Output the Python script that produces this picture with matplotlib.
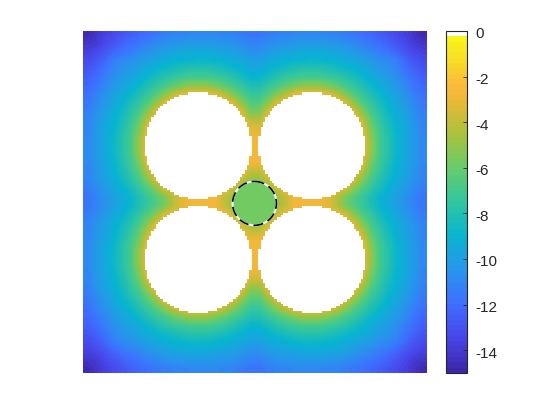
import numpy as np
import matplotlib
matplotlib.use("Agg")
import matplotlib.pyplot as plt
from matplotlib.colors import LinearSegmentedColormap, ListedColormap
from matplotlib.patches import Circle
from matplotlib.transforms import ScaledTranslation

# upper-left quadrant, each row starts on the diagonal
quad_rows = [
    [-14.7, -14.2, -13.7, -13.3, -12.9, -12.5, -12.2, -11.9, -11.6, -11.4, -11.2, -11.1, -11.0, -11.0, -11.0, -11.0, -11.1, -11.2, -11.4, -11.7],
    [-14.0, -13.4, -12.9, -12.4, -12.0, -11.7, -11.3, -11.0, -10.7, -10.5, -10.4, -10.3, -10.3, -10.3, -10.4, -10.5, -10.6, -10.9, -11.2],
    [-12.9, -12.3, -11.8, -11.4, -11.0, -10.6, -10.3, -10.0, -9.8, -9.6, -9.6, -9.6, -9.6, -9.7, -9.9, -10.0, -10.3, -10.6],
    [-11.4, -11.0, -10.7, -10.3, -10.0, -9.7, -9.4, -9.1, -9.0, -8.9, -8.8, -8.9, -9.0, -9.2, -9.4, -9.7, -10.0],
    [-10.6, -10.2, -9.8, -9.4, -9.0, -8.7, -8.4, -8.1, -7.9, -7.9, -7.9, -8.1, -8.4, -8.7, -9.1, -9.5],
    [-9.8, -9.3, -8.8, -8.3, -7.8, -7.5, -7.2, -7.0, -7.0, -7.0, -7.2, -7.5, -7.9, -8.4, -8.9],
    [-8.8, -8.1, -7.5, -7.0, -6.2, -5.6, -5.1, -5.0, -5.1, -5.7, -6.3, -7.0, -7.5, -8.1],
    [-7.4, -6.6, -5.3, -4.0, -3.2, -2.9, -2.9, -2.9, -3.2, -4.2, -5.4, -6.6, -7.4],
    [-5.0, -3.4, -2.9, -2.9, -2.9, -2.9, -2.9, -2.9, -2.9, -3.5, -5.2, -6.6],
    [-2.9, -2.9, -2.9, -2.9, -2.9, -2.9, -2.9, -2.9, -2.9, -3.5, -5.6],
    [-2.9, -2.9, -2.9, -2.9, -2.9, -2.9, -2.9, -2.9, -2.9, -4.2],
    [-2.9, -2.9, -2.9, -2.9, -2.9, -2.9, -2.9, -2.9, -3.2],
    [-2.9, -2.9, -2.9, -2.9, -2.9, -2.9, -2.9, -2.8],
    [-2.9, -2.9, -2.9, -2.9, -2.9, -2.9, -2.6],
    [-2.9, -2.9, -2.9, -2.9, -2.9, -2.6],
    [-2.9, -2.9, -2.9, -2.9, -2.8],
    [-2.9, -2.9, -2.9, -4.0],
    [-2.9, -4.0, -5.0],
    [-5.0, -5.8],
    [-5.8],
]
disk_level = -5.8
hole_level = 0.0
cbar_ticks = [-14, -12, -10, -8, -6, -4, -2, 0]

# parula samples as seen on the colorbar, top entry of the map is white (holes)
parula_pos = [0.0, 0.1, 0.2, 0.3, 0.4, 0.5, 0.6, 0.7, 0.8, 0.85, 0.9, 1.0]
parula = [(0.2422, 0.1504, 0.6603), (0.2803, 0.2782, 0.9221), (0.2440, 0.4358, 0.9988),
          (0.1540, 0.5902, 0.9218), (0.0297, 0.7082, 0.8163), (0.1938, 0.7758, 0.6251),
          (0.40, 0.80, 0.42), (0.66, 0.76, 0.24), (0.92, 0.72, 0.22), (0.99, 0.73, 0.24),
          (0.97, 0.83, 0.16), (0.9769, 0.9839, 0.0805)]
cols = LinearSegmentedColormap.from_list("parula", list(zip(parula_pos, parula)), N=64)(np.arange(64))
cols[-1] = (1, 1, 1, 1)
cmap = ListedColormap(cols)

plt.rcParams['font.family'] = ['Liberation Sans', 'DejaVu Sans']

# build the whole field from the quadrant by mirroring
n = len(quad_rows)
quad = np.zeros((n, n))
for i in range(n):
    for j, v in enumerate(quad_rows[i]):
        quad[i, i + j] = v
        quad[i + j, i] = v
field = np.block([[quad, quad[:, ::-1]], [quad[::-1, :], quad[::-1, ::-1]]])

fig = plt.figure(figsize=(5.6, 4.2), dpi=100)
ax = fig.add_axes([82.5/560, 46.5/420, 344/560, 343/420])
cax = fig.add_axes([446/560, 47/420, 21/560, 342/420])

size = 151
mid = size/2
drop = 0.6  # hole pattern sits slightly below the middle of the field
ext = [0, size, size, 0]
ext2 = [0, size, size + drop, drop]
im = ax.imshow(field, cmap=cmap, vmin=-15, vmax=0, extent=ext,
               interpolation='bilinear', interpolation_stage='data')

# holes and the inner disk sit on the fine grid so their edges stay blocky
yy, xx = np.mgrid[0:size, 0:size] + 0.5
off = 25.0
rad = 23.5
hole = np.zeros((size, size), dtype=bool)
for sx in (-1, 1):
    for sy in (-1, 1):
        hole |= np.hypot(xx - mid - sx*off, yy - mid - sy*off) < rad
rdisk = 9.66
disk = np.hypot(xx - mid, yy - mid) < rdisk
ax.imshow(np.ma.masked_where(~disk, np.full((size, size), disk_level)), cmap=cmap,
          vmin=-15, vmax=0, extent=ext2, interpolation='nearest')
ax.imshow(np.ma.masked_where(~hole, np.full((size, size), hole_level)), cmap=cmap,
          vmin=-15, vmax=0, extent=ext2, interpolation='nearest')

ax.add_patch(Circle((mid, mid + drop), rdisk, fill=False, ec='white', lw=1.4))
ax.add_patch(Circle((mid, mid + drop), rdisk, fill=False, ec='black', lw=1.2, ls=(0, (6, 3))))
ax.set_xlim(0, size)
ax.set_ylim(size, 0)
ax.axis('off')

cb = fig.colorbar(im, cax=cax, ticks=cbar_ticks)
cb.outline.set_edgecolor('#262626')
cb.outline.set_linewidth(0.8)
cax.tick_params(direction='in', length=3, width=0.6, color='#262626',
                labelcolor='#262626', labelsize=11, pad=6)
cax.set_yticklabels([str(t) for t in cbar_ticks])
# labels sit a little under their ticks
shift = ScaledTranslation(0, -2/100, fig.dpi_scale_trans)
for lab in cax.get_yticklabels():
    lab.set_transform(lab.get_transform() + shift)

fig.savefig("out.png", dpi=100)
